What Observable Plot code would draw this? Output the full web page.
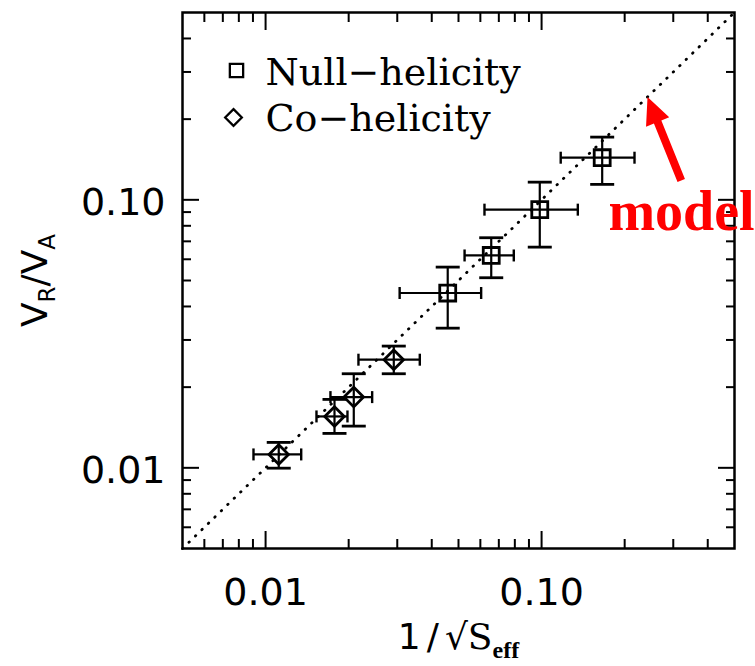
<!DOCTYPE html>
<html><head><meta charset="utf-8">
<script src="https://cdn.jsdelivr.net/npm/d3@7"></script>
<script src="https://cdn.jsdelivr.net/npm/@observablehq/plot@0.6"></script>
<style>body{margin:0;background:#fff}</style>
</head><body><div id="chart"></div>
<script>
// Null-helicity (squares)
const nullX   = [0.0457, 0.0657, 0.0985, 0.1658];
const nullXLo = [0.0306, 0.0526, 0.0621, 0.1173];
const nullXHi = [0.0604, 0.0793, 0.1353, 0.2171];
const nullY   = [0.0449, 0.0620, 0.0919, 0.1436];
const nullYLo = [0.0332, 0.0512, 0.0666, 0.1142];
const nullYHi = [0.0561, 0.0722, 0.1164, 0.1714];
// Co-helicity (diamonds)
const coX   = [0.01116, 0.01777, 0.02087, 0.02914];
const coXLo = [0.00904, 0.01529, 0.01718, 0.02170];
const coXHi = [0.01346, 0.01980, 0.02433, 0.03620];
const coY   = [0.01122, 0.01555, 0.01836, 0.02532];
const coYLo = [0.00997, 0.01344, 0.01431, 0.02244];
const coYHi = [0.01244, 0.01800, 0.02244, 0.02846];
// model line y = x
const modelX = [0.005, 0.5];
const modelY = [0.005, 0.5];
const modelArrowAt = [0.242];

const domain = [0.005, 0.5];
const majorTicks = [0.01, 0.1];
const majorTickLabels = ["0.01", "0.10"];
const minorTicks = [0.006,0.007,0.008,0.009,0.02,0.03,0.04,0.05,0.06,0.07,0.08,0.09,0.2,0.3,0.4];

const seriesNames = ["Null\u2212helicity", "Co\u2212helicity"];
const modelLabel = "model";
const xTitle = ["1/", "\u221A", "S", "eff"];
const yTitle = ["V", "R", "/", "V", "A"];

const makeRows = (X, XL, XH, Y, YL, YH) => X.map((x, i) => ({x, xlo: XL[i], xhi: XH[i], y: Y[i], ylo: YL[i], yhi: YH[i]}));
const nullRows = makeRows(nullX, nullXLo, nullXHi, nullY, nullYLo, nullYHi);
const coRows = makeRows(coX, coXLo, coXHi, coY, coYLo, coYHi);
const allRows = [...nullRows, ...coRows];
const modelRows = modelX.map((x, i) => ({x, y: modelY[i]}));
const labelMap = new Map(majorTicks.map((t, i) => [t, majorTickLabels[i]]));

const capShape = {draw(ctx, l) { ctx.moveTo(0, 0); ctx.lineTo(0, -l); }};
const arrowShape = {draw(ctx, l) {
  const w = 4, h = 12.5, hl = 27;
  ctx.moveTo(-w, 0); ctx.lineTo(-w, -(l - hl)); ctx.lineTo(-h, -(l - hl));
  ctx.lineTo(0, -l); ctx.lineTo(h, -(l - hl)); ctx.lineTo(w, -(l - hl));
  ctx.lineTo(w, 0); ctx.closePath();
}};

const tickStyle = {stroke: "black", strokeWidth: 2, label: null, text: null};
const labelStyle = {tickSize: 0, label: null, fontSize: 38, fontFamily: "DejaVu Sans", tickFormat: d => labelMap.get(d)};

const plot = Plot.plot({
  width: 755, height: 666,
  marginLeft: 182, marginRight: 21, marginTop: 12, marginBottom: 118,
  x: {type: "log", domain},
  y: {type: "log", domain},
  style: {background: "white", color: "black", overflow: "visible"},
  marks: [
    // inward ticks on four sides
    Plot.axisX(majorTicks, {...tickStyle, anchor: "bottom", tickSize: -17}),
    Plot.axisX(minorTicks, {...tickStyle, anchor: "bottom", tickSize: -9}),
    Plot.axisX(majorTicks, {...tickStyle, anchor: "top", tickSize: -17}),
    Plot.axisX(minorTicks, {...tickStyle, anchor: "top", tickSize: -9}),
    Plot.axisY(majorTicks, {...tickStyle, anchor: "left", tickSize: -17}),
    Plot.axisY(minorTicks, {...tickStyle, anchor: "left", tickSize: -9}),
    Plot.axisY(majorTicks, {...tickStyle, anchor: "right", tickSize: -17}),
    Plot.axisY(minorTicks, {...tickStyle, anchor: "right", tickSize: -9}),
    // tick labels
    Plot.axisX(majorTicks, {...labelStyle, anchor: "bottom", tickPadding: 30}),
    Plot.axisY(majorTicks, {...labelStyle, anchor: "left", tickPadding: 17, dy: 3}),
    Plot.frame({stroke: "black", strokeWidth: 2.5}),
    // model
    Plot.line(modelRows, {x: "x", y: "y", stroke: "black", strokeWidth: 2.8, strokeDasharray: "0.5,8.5", strokeLinecap: "round"}),
    // error bars
    Plot.ruleY(allRows, {y: "y", x1: "xlo", x2: "xhi", stroke: "black", strokeWidth: 2.2}),
    Plot.ruleX(allRows, {x: "x", y1: "ylo", y2: "yhi", stroke: "black", strokeWidth: 2.2}),
    Plot.vector(allRows, {x: "x", y: "yhi", length: 24, rotate: 90, anchor: "middle", shape: capShape, stroke: "black", strokeWidth: 2.8, strokeLinecap: "butt"}),
    Plot.vector(allRows, {x: "x", y: "ylo", length: 24, rotate: 90, anchor: "middle", shape: capShape, stroke: "black", strokeWidth: 2.8, strokeLinecap: "butt"}),
    Plot.vector(allRows, {x: "xlo", y: "y", length: 12, rotate: 0, anchor: "middle", shape: capShape, stroke: "black", strokeWidth: 2.4, strokeLinecap: "butt"}),
    Plot.vector(allRows, {x: "xhi", y: "y", length: 12, rotate: 0, anchor: "middle", shape: capShape, stroke: "black", strokeWidth: 2.4, strokeLinecap: "butt"}),
    // markers
    Plot.dot(nullRows, {x: "x", y: "y", symbol: "square", r: 9, stroke: "black", strokeWidth: 2.8, fill: "none"}),
    Plot.dot(coRows, {x: "x", y: "y", symbol: "diamond2", r: 8.8, stroke: "black", strokeWidth: 2.8, fill: "none"}),
    // legend
    Plot.dot([seriesNames[0]], {frameAnchor: "top-left", dx: 54, dy: 58, symbol: "square", r: 7.5, stroke: "black", strokeWidth: 2.3, fill: "none"}),
    Plot.dot([seriesNames[1]], {frameAnchor: "top-left", dx: 51, dy: 105, symbol: "diamond2", r: 7.5, stroke: "black", strokeWidth: 2.3, fill: "none"}),
    Plot.text([seriesNames[0]], {frameAnchor: "top-left", dx: 83, dy: 60, textAnchor: "start", lineAnchor: "middle", fontFamily: "DejaVu Serif", fontSize: 38, fill: "black"}),
    Plot.text([seriesNames[1]], {frameAnchor: "top-left", dx: 83, dy: 106, textAnchor: "start", lineAnchor: "middle", fontFamily: "DejaVu Serif", fontSize: 38, fill: "black"}),
    // model annotation
    Plot.vector(modelArrowAt, {x: d => d, y: d => d, anchor: "end", rotate: -22, length: 90, shape: arrowShape, stroke: "none", fill: "red"}),
    Plot.text(modelArrowAt, {x: d => d, y: d => d, text: () => modelLabel, dx: 34, dy: 133, textAnchor: "middle", lineAnchor: "bottom", fontFamily: "Liberation Serif", fontWeight: "bold", fontSize: 56, fill: "red"}),
    // axis titles
    Plot.text([xTitle.join("")], {frameAnchor: "bottom", dy: 89, textAnchor: "middle", lineAnchor: "middle", fontFamily: "DejaVu Sans", fontSize: 36, fill: "black"}),
    Plot.text([yTitle.join("")], {frameAnchor: "left", dx: -147, rotate: -90, textAnchor: "middle", lineAnchor: "middle", fontFamily: "DejaVu Sans", fontSize: 36, fill: "black"})
  ]
});

// subscripts in the axis titles
const svg = d3.select(plot);
const findText = s => svg.selectAll("text").filter(function() { return this.textContent === s; });
const xt = findText(xTitle.join(""));
xt.text(null);
xt.append("tspan").attr("letter-spacing", "6px").text(xTitle[0]);
xt.append("tspan").text(xTitle[1]);
xt.append("tspan").attr("font-family", "DejaVu Serif").text(xTitle[2]);
xt.append("tspan").attr("font-family", "Liberation Serif").attr("font-weight", "bold").attr("font-size", "24px").attr("dy", "9").text(xTitle[3]);

const yt = findText(yTitle.join(""));
yt.text(null);
yt.append("tspan").text(yTitle[0]);
yt.append("tspan").attr("font-size", "23px").attr("dy", "8").text(yTitle[1]);
yt.append("tspan").attr("dy", "-8").text(yTitle[2]);
yt.append("tspan").text(yTitle[3]);
yt.append("tspan").attr("font-size", "23px").attr("dy", "8").text(yTitle[4]);

document.getElementById("chart").appendChild(plot);
</script>
</body></html>
